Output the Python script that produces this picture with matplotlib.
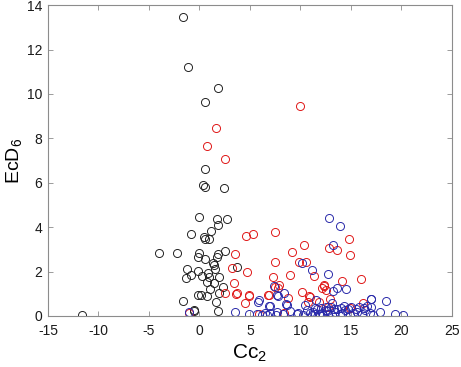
import numpy as np
import matplotlib
matplotlib.use("Agg")
import matplotlib.pyplot as plt

# --- data ---
black_x = [-1.65, -1.09, 1.85, 0.53, 0.53, 0.40, 0.56, 2.44, -0.03, 1.75, 2.74, 1.85, 1.19,
           -0.79, 0.47, 0.60, 0.92, -3.96, -2.21, -0.03, -0.10, 1.85, 2.57, 0.60, 1.75, 1.32,
           1.42, -1.22, -1.36, -0.86, -0.17, 1.58, 0.27, 0.86, 0.96, 1.91, 0.76, 1.49, 2.34,
           1.09, -0.10, 0.17, 0.76, 1.91, 1.62, -1.62, -0.50, 1.88, -11.65, 3.70, -0.56]
black_y = [13.45, 11.20, 10.27, 9.64, 6.60, 5.89, 5.83, 5.78, 4.47, 4.35, 4.35, 4.08, 3.84,
           3.71, 3.54, 3.45, 3.45, 2.82, 2.82, 2.82, 2.67, 2.79, 2.94, 2.58, 2.64, 2.40,
           2.30, 2.10, 1.73, 1.86, 2.04, 2.13, 1.80, 1.92, 1.77, 1.74, 1.55, 1.47, 1.32,
           1.20, 0.93, 0.93, 0.90, 1.02, 0.65, 0.69, 0.21, 0.21, 0.05, 2.22, 0.27]

red_x = [9.93, 1.65, 0.73, 2.50, 3.53, 3.27, 3.43, 2.50, 3.63, -0.99, 4.62, 5.31, 7.52,
         9.21, 10.36, 9.83, 10.59, 7.49, 4.72, 8.94, 7.26, 11.32, 7.89, 7.82, 7.52, 4.95,
         6.80, 8.78, 10.20, 10.82, 4.55, 14.16, 16.00, 14.85, 14.88, 12.84, 13.63, 12.31,
         12.90, 10.73, 16.20, 12.15, 3.73, 4.88, 6.86, 11.00, 12.30, 12.50, 11.80, 14.95,
         12.74, 5.90, 8.40]
red_y = [9.45, 8.48, 7.66, 7.06, 2.79, 2.16, 1.47, 1.02, 0.99, 0.15, 3.60, 3.69, 3.80,
         2.88, 3.18, 2.45, 2.45, 2.45, 2.00, 1.86, 1.77, 1.80, 1.41, 1.25, 1.32, 0.92,
         0.95, 0.83, 1.10, 0.92, 0.60, 1.59, 1.68, 3.45, 2.73, 3.08, 2.97, 1.35,
         0.78, 0.65, 0.57, 1.25, 1.02, 0.95, 0.95, 0.87, 1.40, 1.17, 0.65, 0.35,
         0.42, 0.10, 0.15]

blue_x = [12.80, 13.96, 13.24, 10.20, 11.12, 12.70, 7.36, 8.35, 7.79, 11.58, 13.63, 14.49,
          13.24, 17.03, 18.50, 8.58, 7.03, 3.53, 19.34, 20.17, -1.00, 5.81, 16.96, 7.70,
          6.86, 8.68, 10.50, 11.50, 12.50, 13.10, 5.87,
          4.95, 5.74, 6.24, 6.53, 6.73, 7.03, 7.62, 7.72, 8.32, 9.01, 9.70, 9.80, 10.30,
          10.69, 10.99, 11.19, 11.29, 11.49, 11.68, 11.88, 12.18, 12.28, 12.67, 12.77,
          13.17, 13.47, 13.66, 13.96, 14.16, 14.46, 14.95, 15.25, 15.64, 16.14, 16.44,
          16.93, 17.23, 17.92,
          12.00, 12.50, 13.00, 13.30, 14.00, 14.30, 14.70, 15.00, 15.50, 15.80, 16.30,
          16.60, 17.00]
blue_y = [4.40, 4.05, 3.20, 2.37, 2.07, 1.89, 1.35, 1.02, 0.90, 0.72, 1.28, 1.20,
          1.14, 0.75, 0.68, 0.54, 0.47, 0.19, 0.08, 0.06, 0.20, 0.65, 0.78, 0.95,
          0.45, 0.50, 0.50, 0.35, 0.42, 0.57, 0.72,
          0.10, 0.08, 0.05, 0.12, 0.06, 0.15, 0.05, 0.20, 0.10, 0.22, 0.08, 0.15, 0.05,
          0.25, 0.12, 0.06, 0.18, 0.10, 0.30, 0.08, 0.15, 0.05, 0.22, 0.10,
          0.05, 0.18, 0.30, 0.08, 0.15, 0.25, 0.05, 0.12, 0.20, 0.08, 0.28,
          0.12, 0.05, 0.18,
          0.35, 0.25, 0.40, 0.30, 0.35, 0.45, 0.30, 0.40, 0.30, 0.42, 0.35,
          0.45, 0.40]

# MATLAB-ish look: Helvetica-like font, plain hyphen minus
plt.rcParams['font.family'] = 'Liberation Sans'
plt.rcParams['mathtext.fontset'] = 'custom'
plt.rcParams['mathtext.rm'] = 'Liberation Sans'
plt.rcParams['mathtext.it'] = 'Liberation Sans:italic'
plt.rcParams['mathtext.default'] = 'regular'
plt.rcParams['axes.unicode_minus'] = False

fig = plt.figure(figsize=(4.61, 3.67), dpi=100)
ax = fig.add_axes([0.104, 0.139, 0.876, 0.847])

ms = 5.8
ax.plot(black_x, black_y, 'o', mfc='none', mec='#222222', ms=ms, mew=0.7)
ax.plot(red_x, red_y, 'o', mfc='none', mec='#e01818', ms=ms, mew=0.7)
ax.plot(blue_x, blue_y, 'o', mfc='none', mec='#2a2aaa', ms=ms, mew=0.7)

ax.set_xlim(-15, 25)
ax.set_ylim(0, 14)
ax.set_xticks(np.arange(-15, 26, 5))
ax.set_yticks(np.arange(0, 15, 2))

for s in ax.spines.values():
    s.set_color('#8c8c8c')
    s.set_linewidth(0.8)
ax.tick_params(direction='in', top=True, right=True, length=3.5, width=0.6,
               color='#8c8c8c', labelsize=10, labelcolor='#1a1a1a')
ax.tick_params(axis='x', pad=6)
ax.tick_params(axis='y', pad=4)

ax.set_xlabel(r'Cc$_2$', fontsize=15, labelpad=3)
ax.set_ylabel(r'EcD$_6$', fontsize=14, labelpad=2)

fig.savefig('out.png', dpi=100)
